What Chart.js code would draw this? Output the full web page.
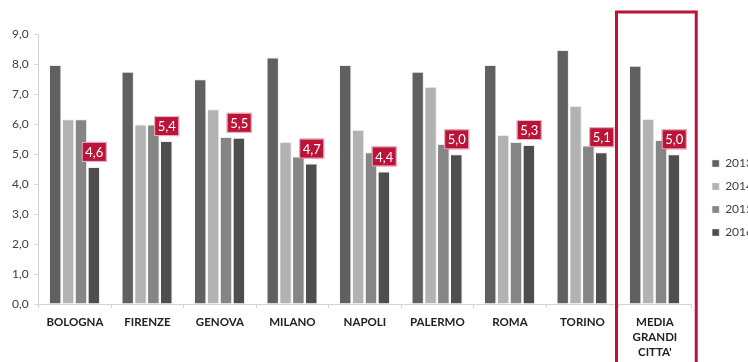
<!DOCTYPE html>
<html>
<head>
<meta charset="utf-8">
<script src="https://cdn.jsdelivr.net/npm/chart.js@4/dist/chart.umd.min.js"></script>
<style>
  html, body { margin:0; padding:0; background:#fff; overflow:hidden; }
  #wrap { position:relative; width:763px; height:362px; }
</style>
</head>
<body>
<div id="wrap"><canvas id="grafico"></canvas></div>
<script>
// dati
const citta = ['BOLOGNA','FIRENZE','GENOVA','MILANO','NAPOLI','PALERMO','ROMA','TORINO',['MEDIA','GRANDI',"CITTA'"]];
const anni = ['2013','2014','2015','2016'];
const v2013 = [7.97, 7.74, 7.49, 8.22, 7.97, 7.74, 7.97, 8.47, 7.94];
const v2014 = [6.16, 5.98, 6.49, 5.40, 5.80, 7.24, 5.63, 6.60, 6.17];
const v2015 = [6.16, 5.98, 5.57, 4.92, 5.06, 5.33, 5.40, 5.28, 5.47];
const v2016 = [4.57, 5.43, 5.54, 4.68, 4.42, 4.99, 5.30, 5.06, 4.99];
const colori = ['#606060','#b2b2b2','#858585','#4e4e4e'];
const rosso = '#bb1439';

const fmt = v => v.toFixed(1).replace('.', ',');

// etichette rosse sopra le barre 2016 + riquadro sulla media
const decorazioni = {
  id: 'decorazioni',
  afterDatasetsDraw(chart){
    const ctx = chart.ctx;
    const meta = chart.getDatasetMeta(3);
    ctx.save();
    ctx.font = '13px Lato, "Open Sans", sans-serif';
    ctx.textAlign = 'center';
    ctx.textBaseline = 'middle';
    meta.data.forEach((bar, i) => {
      const w = 25, h = 20;
      const x = bar.x - w/2, y = bar.y - 5 - h;
      ctx.fillStyle = rosso;
      ctx.fillRect(x, y, w, h);
      ctx.strokeStyle = 'rgba(255,255,255,0.7)';
      ctx.lineWidth = 1;
      ctx.strokeRect(x+0.5, y+0.5, w-1, h-1);
      ctx.fillStyle = '#fff';
      ctx.fillText(fmt(v2016[i]), bar.x, y + h/2 + 1);
    });
    // riquadro MEDIA GRANDI CITTA'
    const xs = chart.scales.x;
    const cw = xs.width / citta.length;
    const c = xs.getPixelForValue(citta.length - 1);
    ctx.strokeStyle = rosso;
    ctx.lineWidth = 3;
    ctx.strokeRect(c - 0.53*cw, 12, 1.1*cw, 400);
    ctx.restore();
  }
};

const ctx = document.getElementById('grafico').getContext('2d');
const grafico = new Chart(ctx, {
  type: 'bar',
  data: {
    labels: citta,
    datasets: anni.map((a, k) => ({
      label: a,
      data: [v2013, v2014, v2015, v2016][k],
      backgroundColor: colori[k],
      borderColor: 'rgba(230,230,230,0.8)',
      borderWidth: {left:0, right:1, top:1, bottom:0},
      barPercentage: 0.9,
      categoryPercentage: 0.71
    }))
  },
  options: {
    responsive: true,
    maintainAspectRatio: false,
    animation: false,
    layout: { padding: { left: 6, top: 34, right: 0, bottom: 0 } },
    plugins: {
      legend: {
        position: 'right',
        align: 'center',
        labels: {
          boxWidth: 7, boxHeight: 7,
          padding: 11,
          color: '#404040',
          font: { family: 'Lato, "Open Sans", sans-serif', size: 12 }
        }
      },
      tooltip: { enabled: false }
    },
    scales: {
      x: {
        grid: { display: true, drawOnChartArea: false, offset: true, tickLength: 4, color: '#d4d4d4' },
        border: { color: '#d4d4d4' },
        ticks: {
          color: '#222',
          font: { family: 'Lato, "Open Sans", sans-serif', size: 11.5, weight: 'bold', lineHeight: 1.3 },
          padding: 7,
          maxRotation: 0, autoSkip: false
        },
        afterFit: s => { s.height = 58; }
      },
      y: {
        min: 0, max: 9,
        grid: { drawOnChartArea: false, tickLength: 4, color: '#d4d4d4' },
        border: { color: '#d4d4d4' },
        ticks: {
          stepSize: 1,
          color: '#404040',
          padding: 6,
          font: { family: 'Lato, "Open Sans", sans-serif', size: 12 },
          callback: v => fmt(v)
        }
      },
      // spazio vuoto tra grafico e legenda
      y2: {
        position: 'right',
        grid: { display: false },
        border: { display: false },
        ticks: { display: false },
        afterFit: s => { s.width = 10; }
      }
    }
  },
  plugins: [decorazioni]
});
</script>
</body>
</html>
